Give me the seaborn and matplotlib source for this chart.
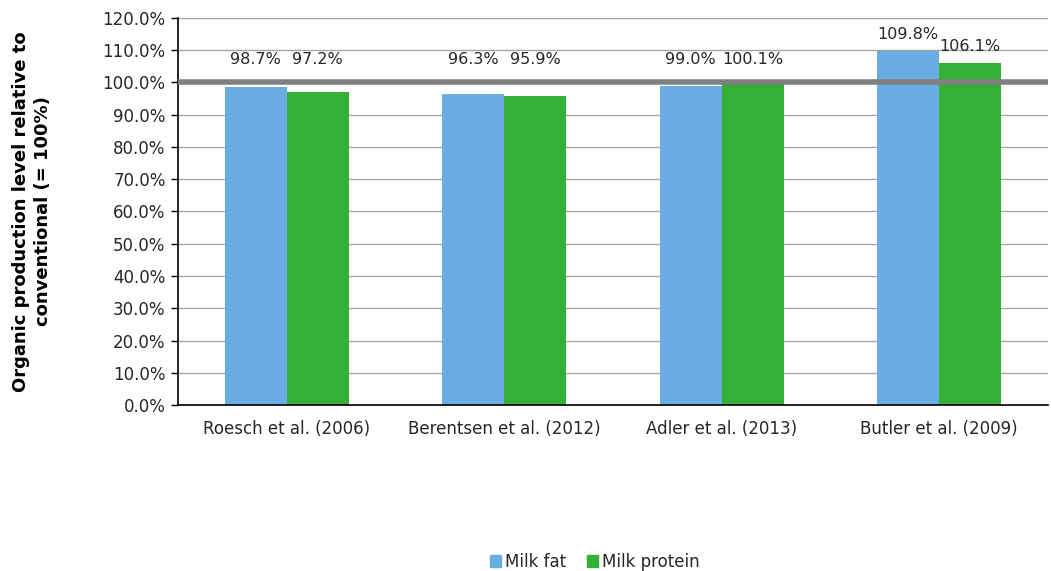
import pandas as pd
import matplotlib.pyplot as plt
import seaborn as sns
import numpy as np

studies = ['Roesch et al. (2006)', 'Berentsen et al. (2012)', 'Adler et al. (2013)', 'Butler et al. (2009)']
milk_fat = [98.7, 96.3, 99.0, 109.8]
milk_protein = [97.2, 95.9, 100.1, 106.1]
series = ['Milk fat', 'Milk protein']
colors = ['#6AADE4', '#33B035']

df = pd.DataFrame({
    'study': studies * 2,
    'value': milk_fat + milk_protein,
    'series': [series[0]] * 4 + [series[1]] * 4,
})

sns.set_style('white')
plt.rcParams['font.family'] = ['DejaVu Sans']

fig = plt.figure(figsize=(10.51, 5.71), dpi=100)
ax = fig.add_axes([0.1694, 0.2907, 0.8276, 0.6778])

ax.set_ylim(0, 120)
ax.set_yticks(np.arange(0, 121, 10))
ax.yaxis.grid(True, color='#a6a6a6', linewidth=1)
ax.set_axisbelow(True)

sns.barplot(data=df, x='study', y='value', hue='series', palette=colors,
            width=0.57, gap=0, saturation=1, ax=ax, legend=False, zorder=2,
            linewidth=0)

ax.axhline(100, color='#808080', linewidth=4, zorder=3)

# data labels (Excel-like placement above the bars / reference line)
for cont, vals in zip(ax.containers, [milk_fat, milk_protein]):
    for bar, v in zip(cont, vals):
        ax.text(bar.get_x() + bar.get_width() / 2, max(v + 5, 107), f'{v:.1f}%',
                ha='center', va='center', fontsize=11.5, color='#262626')

ax.set_xlim(-0.5, 3.5)
ax.set_xticks(range(4))
ax.set_xticklabels(studies, fontsize=12, color='#262626')
ax.set_xticks(np.arange(-0.5, 4, 1), minor=True)
ax.tick_params(axis='x', which='major', length=0, pad=11)
ax.tick_params(axis='x', which='minor', length=5, width=1, direction='out', color='black')
ax.tick_params(axis='y', length=5, width=1, direction='out', color='black', labelsize=12,
               labelcolor='#262626', left=True, pad=4)
ax.yaxis.set_major_formatter(plt.FuncFormatter(lambda v, p: f'{v:.1f}%'))
ax.set_xlabel('')
ax.set_ylabel('Organic production level relative to\nconventional (= 100%)', fontsize=13,
              fontweight='bold', color='black', linespacing=1.25)
ax.yaxis.set_label_coords(-0.145, 0.5)

for s in ['top', 'right']:
    ax.spines[s].set_visible(False)
for s in ['left', 'bottom']:
    ax.spines[s].set_color('black')
    ax.spines[s].set_linewidth(1.2)

handles = [plt.Rectangle((0, 0), 1, 1, color=c) for c in colors]
fig.legend(handles, series, loc='center', bbox_to_anchor=(0.566, 0.016), ncol=2, frameon=False,
           fontsize=12, handlelength=0.65, handleheight=0.65, handletextpad=0.2, columnspacing=1.3)

fig.savefig('out.png', dpi=100)
plt.close()
